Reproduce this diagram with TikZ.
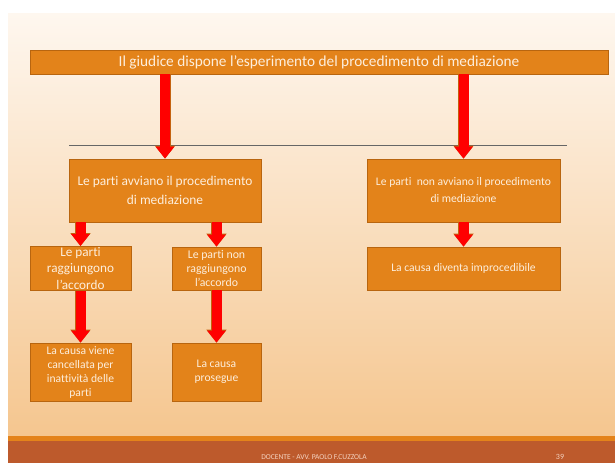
\documentclass[tikz,border=0pt]{standalone}
\usepackage{fontspec}
\setmainfont{Carlito}[Ligatures=NoCommon]
\usetikzlibrary{arrows.meta}
\definecolor{slidetop}{HTML}{FEF7EF}
\definecolor{slidebottom}{HTML}{F5C68F}
\definecolor{boxfill}{HTML}{E3831A}
\definecolor{boxline}{HTML}{B8650F}
\definecolor{boxtext}{HTML}{FDEEDC}
\definecolor{arrowline}{HTML}{C4620F}
\definecolor{footband}{HTML}{BD5A2C}
\definecolor{footline}{HTML}{E4831A}
\definecolor{foottext}{HTML}{F4D2C0}
\tikzset{
	% ---- default
	every node/.style={font=\normalsize},
	% ---- custom
	stepbox/.style={draw=boxline, line width=0.8pt, fill=boxfill, text=boxtext,
		align=center, inner sep=1pt, anchor=center},
	blockarrow/.style={
		preaction={draw=arrowline, line width=11pt,
			-{Triangle[length=13pt 0 0, width=19.6pt 0]}},
		line width=10pt, red,
		-{Triangle[length=12pt 0 0, width=18pt 0]}},
	divider/.style={line width=0.6pt, gray!80!black},
}

\begin{document}
\begin{tikzpicture}[x=1pt, y=-1pt]

% slide background %{{{2

	\useasboundingbox (0,0) rectangle (615,463);
	\fill[white] (0,0) rectangle (615,463);
	\shade[top color=slidetop, bottom color=slidebottom] (8,13) rectangle (615,436);
	\fill[footline] (8,436) rectangle (615,441);
	\fill[footband] (8,441) rectangle (615,463);

% boxes %{{{2

	\node[stepbox, minimum width=578pt, minimum height=24pt, font=\fontsize{15.3}{18}\selectfont]
		(giudice) at (319,62) {Il giudice dispone l’esperimento del procedimento di mediazione};

	\node[stepbox, minimum width=192pt, minimum height=63pt, font=\fontsize{13.4}{19.5}\selectfont]
		(avv) at (165,190.5) {Le parti avviano il procedimento\\di mediazione};
	\node[stepbox, minimum width=193pt, minimum height=63pt, font=\fontsize{11.6}{17}\selectfont]
		(nonavv) at (463.5,190.5) {Le parti\ \ non avviano il procedimento\\di mediazione};

	\node[stepbox, minimum width=101pt, minimum height=43pt, font=\fontsize{13.2}{16.5}\selectfont]
		(acc) at (80.5,268.5) {Le parti\\raggiungono\\l’accordo};
	\node[stepbox, minimum width=89pt, minimum height=43pt, font=\fontsize{11.8}{14}\selectfont]
		(nonacc) at (216.5,268.5) {Le parti non\\raggiungono\\l’accordo};
	\node[stepbox, minimum width=193pt, minimum height=43pt, font=\fontsize{11.6}{14}\selectfont]
		(improc) at (463.5,268.5) {La causa diventa improcedibile};

	\node[stepbox, minimum width=101pt, minimum height=58pt, font=\fontsize{11.6}{14}\selectfont]
		(canc) at (80.5,372) {La causa viene\\cancellata per\\inattività delle\\parti};
	\node[stepbox, minimum width=89pt, minimum height=58pt, font=\fontsize{11.6}{14}\selectfont]
		(prosegue) at (216.5,372) {La causa\\prosegue};

% divider %{{{2

	\draw[divider] (69,145) coordinate (divl) -- (567,145) coordinate (divr);

% arrows %{{{2

	\draw[blockarrow] (giudice.south -| avv.north) -- (avv.north);
	\draw[blockarrow] (giudice.south -| nonavv.north) -- (nonavv.north);
	\draw[blockarrow] (avv.south -| acc.north) -- (acc.north);
	\draw[blockarrow] (avv.south -| nonacc.north) -- (nonacc.north);
	\draw[blockarrow] (nonavv.south) -- (improc.north);
	\draw[blockarrow] (acc.south) -- (canc.north);
	\draw[blockarrow] (nonacc.south) -- (prosegue.north);

% footer %{{{2

	\node[text=foottext, font=\fontsize{7.5}{8}\selectfont] (docente) at (314,457) {DOCENTE - AVV. PAOLO F.CUZZOLA};
	\node[text=foottext, font=\fontsize{8}{9}\selectfont] (pagina) at (560,457) {39};

% closing %{{{2

\end{tikzpicture}
\end{document}
